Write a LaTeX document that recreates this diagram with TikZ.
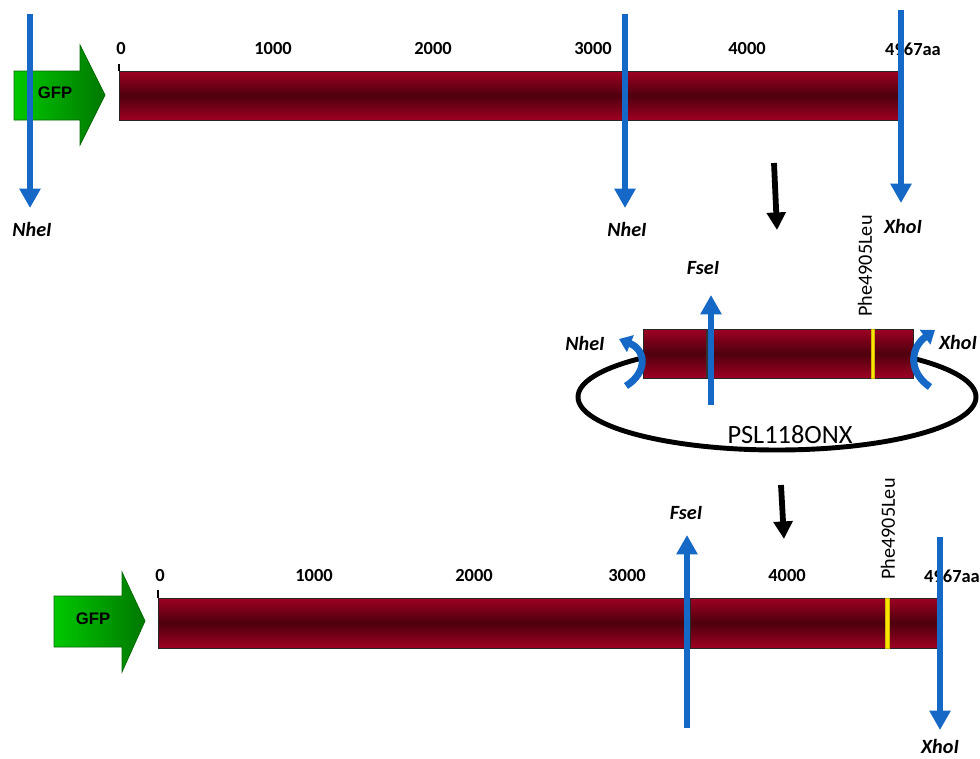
\documentclass[tikz,border=0pt]{standalone}
\usepackage{fontspec}
\setmainfont{Carlito}
\newfontfamily\gfpfont{Liberation Sans}
\usetikzlibrary{arrows.meta,positioning}

\definecolor{barred}{RGB}{158,0,34}
\definecolor{bardark}{RGB}{78,0,14}
\definecolor{siteblue}{RGB}{21,104,198}
\definecolor{gfpgreen}{RGB}{0,200,0}
\definecolor{gfpdark}{RGB}{0,105,0}
\definecolor{mutyellow}{RGB}{255,230,0}

\tikzset{
  redbar/.style={draw=black!85, line width=0.5pt, top color=barred, bottom color=barred, middle color=bardark},
  gfpbox/.style={draw=gfpdark, line width=0.4pt, left color=gfpgreen, right color=gfpgreen!60!black},
  sitearrow/.style={draw=siteblue, line width=3.3pt, -{Triangle[width=11.5pt,length=11pt]}},
  curlarrow/.style={draw=siteblue, line width=4pt, -{Triangle[width=10pt,length=7pt]}},
  steparrow/.style={draw=black, line width=3.3pt, -{Triangle[width=10.5pt,length=10pt]}},
  sitelabel/.style={font=\bfseries\itshape\fontsize{11.5}{12}\selectfont},
  ticklabel/.style={font=\bfseries\fontsize{10.5}{11}\selectfont},
  mutlabel/.style={rotate=90, font=\fontsize{11.5}{12}\selectfont},
  gfplabel/.style={font=\gfpfont\bfseries\fontsize{9.5}{10}\selectfont}
}

\begin{document}
\begin{tikzpicture}[x=0.02cm, y=-0.02cm]
    \useasboundingbox (0,0) rectangle (980,758);

    % draw top construct
    \shade[gfpbox] (14,71) -- (80,71) -- (80,45) -- (105,95) -- (80,145) -- (80,120) -- (14,120) -- cycle;
    \node[gfplabel] (gfpA) at (55,93) {GFP};
    \shade[redbar] (119,71) rectangle (900,120);
    \draw[line width=0.8pt] (119,64) -- (119,71);

    % draw tick labels
    \foreach \x/\t in {121/0,273/1000,433/2000,593/3000,747/4000,913/4967aa}
      \node[ticklabel] (a\t) at (\x,49) {\t};

    % draw restriction sites
    \foreach \x/\ya/\yb/\nm/\lab/\ly in {30/14/208/nheA/NheI/229, 625/14/208/nheB/NheI/229, 901/10/203/xhoA/XhoI/226}
    {
      \coordinate (\nm top) at (\x,\ya);
      \coordinate (\nm tip) at (\x,\yb);
      \draw[sitearrow] (\nm top) -- (\nm tip);
      \node[sitelabel] (\nm lab) at (\x+2,\ly) {\lab};
    }

    % draw step arrows
    \coordinate (stepAtop) at (774,163);
    \coordinate (stepAtip) at (777,230);
    \draw[steparrow] (stepAtop) -- (stepAtip);
    \coordinate (stepBtop) at (781,485);
    \coordinate (stepBtip) at (784,539);
    \draw[steparrow] (stepBtop) -- (stepBtip);

    % draw plasmid
    \draw[line width=2.8pt] (777,397) ellipse [x radius=199, y radius=53];
    \node[font=\fontsize{15}{16}\selectfont] (psl) at (790,435) {PSL118ONX};
    \shade[redbar] (643,329) rectangle (913,378);
    \draw[black!80, line width=0.6pt] (707,329) -- (707,378);
    \draw[fill=mutyellow, draw=mutyellow!80!black, line width=0.2pt] (871,329) rectangle (874,378);
    \node[mutlabel] (mutM) at (865,266) {Phe4905Leu};
    \coordinate (fseMbot) at (711,405);
    \coordinate (fseMtip) at (711,295);
    \draw[sitearrow] (fseMbot) -- (fseMtip);
    \node[sitelabel] (fseMlab) at (703,268) {FseI};
    \coordinate (nheMbot) at (626,386);
    \coordinate (nheMtip) at (619,339);
    \draw[curlarrow] (nheMbot) .. controls (648,372) and (646,350) .. (nheMtip);
    \node[sitelabel] (nheMlab) at (585,343) {NheI};
    \coordinate (xhoMbot) at (930,387);
    \coordinate (xhoMtip) at (935,330);
    \draw[curlarrow] (xhoMbot) .. controls (908,372) and (910,348) .. (xhoMtip);
    \node[sitelabel] (xhoMlab) at (958,342) {XhoI};

    % draw bottom construct
    \shade[gfpbox] (54,596) -- (122,596) -- (122,572) -- (145,621) -- (122,672) -- (122,647) -- (54,647) -- cycle;
    \node[gfplabel] (gfpB) at (93,619) {GFP};
    \shade[redbar] (158,598) rectangle (690,648);
    \shade[redbar] (690,598) rectangle (939,648);
    \draw[line width=0.8pt] (158,590) -- (158,598);
    \draw[fill=mutyellow, draw=mutyellow!80!black, line width=0.2pt] (885,598) rectangle (889,648);
    \node[mutlabel] (mutB) at (888,529) {Phe4905Leu};

    % draw tick labels
    \foreach \x/\t in {160/0,314/1000,474/2000,627/3000,787/4000,952/4967aa}
      \node[ticklabel] (b\t) at (\x,576) {\t};

    % draw restriction sites
    \coordinate (fseBbot) at (687,728);
    \coordinate (fseBtip) at (687,535);
    \draw[sitearrow] (fseBbot) -- (fseBtip);
    \node[sitelabel] (fseBlab) at (686,513) {FseI};
    \coordinate (xhoBtop) at (940,537);
    \coordinate (xhoBtip) at (940,730);
    \draw[sitearrow] (xhoBtop) -- (xhoBtip);
    \node[sitelabel] (xhoBlab) at (940,746) {XhoI};
\end{tikzpicture}
\end{document}
